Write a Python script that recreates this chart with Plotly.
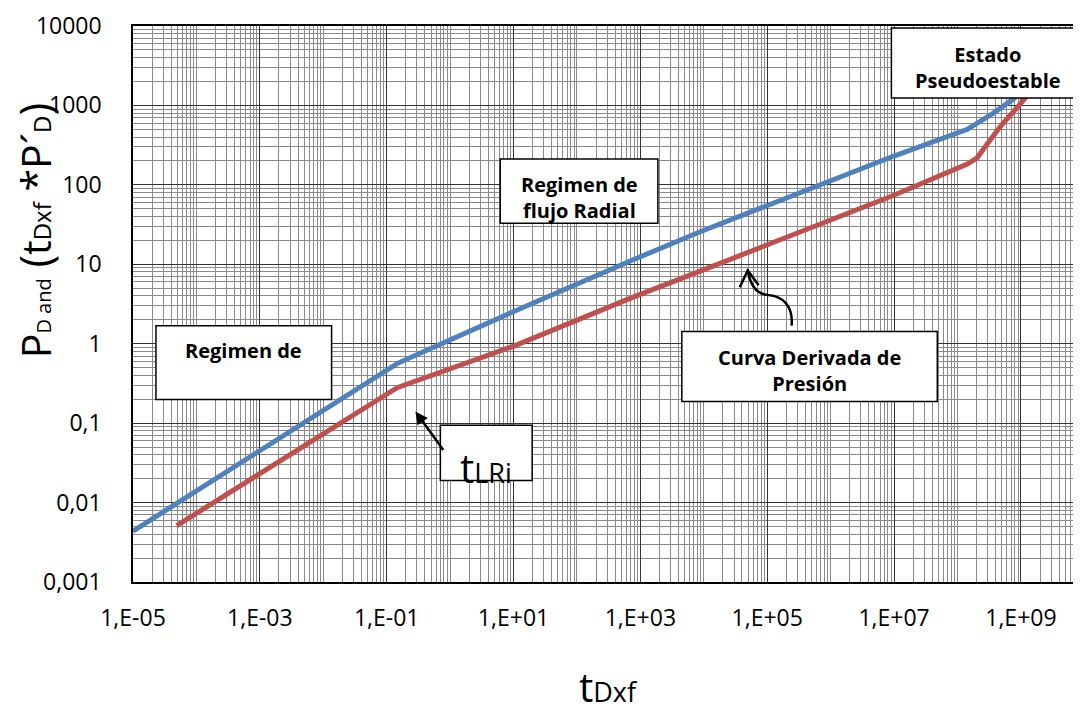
import plotly.graph_objects as go

# ---------------- data ----------------
pd_t = [1e-5, 0.146, 0.316, 9.86, 769, 8770, 9.7e6, 1.43e8, 3.63e8, 7.59e8, 1.26e9]
pd_val = [0.00437, 0.562, 0.741, 2.52, 11.4, 25.7, 229, 501, 794, 1202, 1778]

der_t = [4.9e-5, 0.146, 9.86, 769, 8770, 9.7e6, 1.43e8, 2.04e8, 2.57e8, 4.73e8, 9.77e8, 1.41e9]
der_val = [0.00513, 0.279, 0.927, 3.86, 8.2, 73.5, 183, 219, 282, 541, 1047, 1479]

x_ticks = [1e-5, 1e-3, 1e-1, 1e1, 1e3, 1e5, 1e7, 1e9]
x_ticktext = ["1,E-05", "1,E-03", "1,E-01", "1,E+01", "1,E+03", "1,E+05", "1,E+07", "1,E+09"]
y_ticks = [0.001, 0.01, 0.1, 1, 10, 100, 1000, 10000]
y_ticktext = ["0,001", "0,01", "0,1", "1", "10", "100", "1000", "10000"]

# ---------------- layout geometry ----------------
# the page body has an 8px margin, so the figure is shifted by OFF
OFF = 8
W, H = 1081 - OFF, 710 - OFF
L, R, T, B = 133 - OFF, 1, 18 - OFF, 128
PW, PH = W - L - R, H - T - B


def px(x):
    return (x - OFF - L) / PW


def py(y):
    return (H - B - (y - OFF)) / PH


FONT = "Open Sans, Lato, Arial, sans-serif"
MAJOR = "#333333"
MINOR = "#8a8a8a"

x_minor = [k * 10 ** n for n in range(-5, 10) for k in range(1, 10)
           if not (k == 1 and n % 2 != 0)]
y_minor = [k * 10 ** n for n in range(-3, 4) for k in range(2, 10)]

fig = go.Figure()
fig.add_trace(go.Scatter(x=pd_t, y=pd_val, mode="lines",
                         line=dict(color="#4F81BD", width=5), name="PD"))
fig.add_trace(go.Scatter(x=der_t, y=der_val, mode="lines",
                         line=dict(color="#C0504D", width=5), name="tP'D"))

fig.update_layout(
    width=W, height=H,
    margin=dict(l=L, r=R, t=T, b=B),
    paper_bgcolor="white", plot_bgcolor="white",
    showlegend=False,
    font=dict(family=FONT, color="black"),
    xaxis=dict(type="log", range=[-5, 9.9],
               tickvals=x_ticks, ticktext=x_ticktext,
               tickfont=dict(size=23, family=FONT, color="black"),
               showgrid=True, gridcolor=MAJOR, gridwidth=1,
               showline=True, linecolor="black", linewidth=1.5, mirror=True,
               ticks="", ticklabelstandoff=15, zeroline=False,
               ticklabeloverflow="allow",
               minor=dict(tickvals=x_minor, showgrid=True, gridcolor=MINOR,
                          gridwidth=1, ticks="")),
    yaxis=dict(type="log", range=[-3, 4],
               tickvals=y_ticks, ticktext=y_ticktext,
               tickfont=dict(size=23, family=FONT, color="black"),
               showgrid=True, gridcolor=MAJOR, gridwidth=1,
               showline=True, linecolor="black", linewidth=1.5, mirror=True,
               ticks="", ticklabelstandoff=25, zeroline=False,
               ticklabeloverflow="allow",
               minor=dict(tickvals=y_minor, showgrid=True, gridcolor=MINOR,
                          gridwidth=1, ticks="")),
)

# ---------------- boxes ----------------
boxes = [
    (156, 322, 332, 397),
    (501, 153, 659, 218),
    (441, 423, 533, 479),
    (683, 328, 939, 399),
    (893, 20, 1085, 91),
]
for x0, y0, x1, y1 in boxes:
    fig.add_shape(type="rect", xref="paper", yref="paper",
                  x0=px(x0), x1=px(x1), y0=py(y1), y1=py(y0),
                  fillcolor="white", line=dict(color="black", width=1.5),
                  layer="above")


def label(text, x, y, size=20, xanchor="center", yanchor="middle"):
    fig.add_annotation(text=text, xref="paper", yref="paper",
                       x=px(x), y=py(y), showarrow=False,
                       xanchor=xanchor, yanchor=yanchor,
                       font=dict(family=FONT, size=size, color="black"))


label("<b>Regimen de</b>", 244, 347)
label("<b>Regimen de<br>flujo Radial</b>", 580, 192)
label("<b>Curva Derivada de<br>Presión</b>", 811, 367)
label("<b>Estado<br>Pseudoestable</b>", 990, 60)
label("t<span style='font-size:27px'>LRi</span>", 487, 466, size=40)

# straight arrow to t_LRi
fig.add_annotation(xref="paper", yref="paper", x=px(416), y=py(409),
                   ax=29, ay=40, text="", showarrow=True,
                   arrowhead=2, arrowsize=1, arrowwidth=2.5,
                   arrowcolor="black", standoff=0)


# curved arrow toward derivative curve
def pth(points_cmd):
    out = []
    for tok in points_cmd:
        if isinstance(tok, str):
            out.append(tok)
        else:
            out.append(f"{px(tok[0]):.5f},{py(tok[1]):.5f}")
    return " ".join(out)


curve = pth(["M", (793, 322), "C", (795, 300), (782, 292), (770, 291),
             "S", (752, 282), (749, 266)])
fig.add_shape(type="path", xref="paper", yref="paper", path=curve,
              line=dict(color="black", width=2.5), layer="above")
head = pth(["M", (741, 283), "L", (749, 266), "L", (760, 281)])
fig.add_shape(type="path", xref="paper", yref="paper", path=head,
              line=dict(color="black", width=2.5), layer="above")

# ---------------- axis titles ----------------
fig.add_annotation(
    text=("P<span style='font-size:20px'>D and</span> "
          "<span style='font-size:43px'>(</span>t"
          "<span style='font-size:24px'>Dxf</span> *P´"
          "<span style='font-size:24px'>D</span>"
          "<span style='font-size:43px'>)</span>"),
    xref="paper", yref="paper", x=px(34), y=py(226),
    textangle=-90, showarrow=False, xanchor="center", yanchor="middle",
    font=dict(family=FONT, size=41, color="black"))

fig.add_annotation(
    text="t<span style='font-size:27px'>Dxf</span>",
    xref="paper", yref="paper", x=px(610), y=py(688),
    showarrow=False, xanchor="center", yanchor="middle",
    font=dict(family=FONT, size=40, color="black"))

fig.write_html("out.html")
